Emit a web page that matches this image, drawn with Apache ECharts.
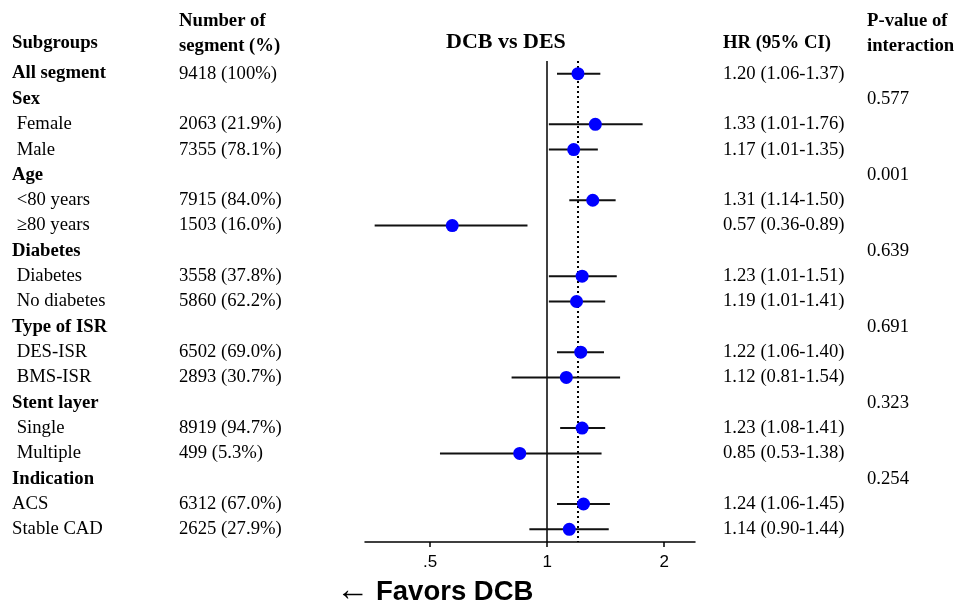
<!DOCTYPE html>
<html>
<head>
<meta charset="utf-8">
<script src="https://cdn.jsdelivr.net/npm/echarts@6/dist/echarts.min.js"></script>
<style>
html,body{margin:0;padding:0;background:#fff;}
#chart{width:959px;height:605px;}
</style>
</head>
<body>
<div id="chart"></div>
<script>
// ---- data ----
var subgroups = ['All segment','Sex',' Female',' Male','Age',' <80 years',' \u226580 years','Diabetes',' Diabetes',' No diabetes','Type of ISR',' DES-ISR',' BMS-ISR','Stent layer',' Single',' Multiple','Indication','ACS','Stable CAD'];
var isHeader = [1,1,0,0,1,0,0,1,0,0,1,0,0,1,0,0,1,0,0];
var nSegments = ['9418 (100%)','','2063 (21.9%)','7355 (78.1%)','','7915 (84.0%)','1503 (16.0%)','','3558 (37.8%)','5860 (62.2%)','','6502 (69.0%)','2893 (30.7%)','','8919 (94.7%)','499 (5.3%)','','6312 (67.0%)','2625 (27.9%)'];
var hrText = ['1.20 (1.06-1.37)','','1.33 (1.01-1.76)','1.17 (1.01-1.35)','','1.31 (1.14-1.50)','0.57 (0.36-0.89)','','1.23 (1.01-1.51)','1.19 (1.01-1.41)','','1.22 (1.06-1.40)','1.12 (0.81-1.54)','','1.23 (1.08-1.41)','0.85 (0.53-1.38)','','1.24 (1.06-1.45)','1.14 (0.90-1.44)'];
var pInteraction = ['','0.577','','','0.001','','','0.639','','','0.691','','','0.323','','','0.254','',''];
var hr = [1.20,null,1.33,1.17,null,1.31,0.57,null,1.23,1.19,null,1.22,1.12,null,1.23,0.85,null,1.24,1.14];
var lo = [1.06,null,1.01,1.01,null,1.14,0.36,null,1.01,1.01,null,1.06,0.81,null,1.08,0.53,null,1.06,0.90];
var hi = [1.37,null,1.76,1.35,null,1.50,0.89,null,1.51,1.41,null,1.40,1.54,null,1.41,1.38,null,1.45,1.44];
var overallHR = 1.20;
var refLine = 1;
var xTicks = [0.5, 1, 2];
var xTickLabels = ['.5', '1', '2'];

// ---- build ----
var pts = [], cis = [];
for (var i = 0; i < hr.length; i++) {
  if (hr[i] != null) {
    pts.push([hr[i], i]);
    cis.push([lo[i], hi[i], i]);
  }
}
var SERIF = '"Liberation Serif","Times New Roman",serif';
var SANS = '"Liberation Sans",Arial,Helvetica,sans-serif';
var FS = 18.7;

function colAxis(data, pos, margin, boldRows) {
  return {
    type: 'category', data: data, inverse: true, position: pos, gridIndex: 0,
    axisLine: {show: false}, axisTick: {show: false}, splitLine: {show: false},
    axisLabel: {
      show: true, interval: 0, margin: margin, align: 'left',
      fontFamily: SERIF, fontSize: FS, color: '#000',
      formatter: function (v, idx) { return boldRows && boldRows[idx] ? '{b|' + v + '}' : v; },
      rich: {b: {fontFamily: SERIF, fontSize: FS, fontWeight: 'bold', color: '#000'}}
    }
  };
}

var chart = echarts.init(document.getElementById('chart'), null, {renderer: 'canvas'});
var option = {
  animation: false,
  backgroundColor: '#fff',
  grid: {left: 365, right: 264, top: 61, bottom: 63, containLabel: false},
  xAxis: {
    type: 'log', logBase: 2, min: 0.34, max: 2.4,
    axisLine: {show: true, lineStyle: {color: '#000', width: 1.5}},
    axisTick: {show: true, customValues: xTicks, length: 5, lineStyle: {color: '#000', width: 1.5}},
    axisLabel: {
      show: true, customValues: xTicks, margin: 12, fontFamily: SANS, fontSize: 17, color: '#000',
      formatter: function (v) { var k = xTicks.indexOf(+v); return k >= 0 ? xTickLabels[k] : ''; }
    },
    splitLine: {show: false}
  },
  yAxis: [
    colAxis(subgroups, 'left', 353, isHeader),
    colAxis(nSegments, 'left', 186, null),
    colAxis(hrText, 'right', 28, null),
    colAxis(pInteraction, 'right', 172, null)
  ],
  graphic: [
    {type: 'text', left: 12, top: 34, style: {text: 'Subgroups', font: 'bold ' + FS + 'px ' + SERIF, fill: '#000'}},
    {type: 'text', left: 179, top: 9, style: {text: 'Number of\nsegment (%)', font: 'bold ' + FS + 'px ' + SERIF, fill: '#000', lineHeight: 25}},
    {type: 'text', left: 723, top: 34, style: {text: 'HR (95% CI)', font: 'bold ' + FS + 'px ' + SERIF, fill: '#000'}},
    {type: 'text', left: 867, top: 9, style: {text: 'P-value of\ninteraction', font: 'bold ' + FS + 'px ' + SERIF, fill: '#000', lineHeight: 25}},
    {type: 'text', left: 446, top: 31, style: {text: 'DCB vs DES', font: 'bold 22px ' + SERIF, fill: '#000'}},
    {type: 'text', left: 336, top: 575, style: {text: '\u2190', font: '33px "Liberation Serif",serif', fill: '#000'}},
    {type: 'text', left: 376, top: 578, style: {text: 'Favors DCB', font: 'bold 27.5px ' + SANS, fill: '#000'}}
  ],
  series: [
    {
      type: 'custom', xAxisIndex: 0, yAxisIndex: 0, data: cis, z: 2, silent: true,
      encode: {x: [0, 1], y: 2},
      renderItem: function (params, api) {
        var s = api.coord([api.value(0), api.value(2)]);
        var e = api.coord([api.value(1), api.value(2)]);
        return {type: 'line', shape: {x1: s[0], y1: s[1], x2: e[0], y2: e[1]}, style: {stroke: '#111', lineWidth: 2}};
      }
    },
    {
      type: 'scatter', xAxisIndex: 0, yAxisIndex: 0, data: pts, z: 5, silent: true,
      symbol: 'circle', symbolSize: 13, itemStyle: {color: '#0000ff', opacity: 1},
      markLine: {
        silent: true, symbol: 'none', label: {show: false}, z: 1,
        data: [
          {xAxis: refLine, lineStyle: {color: '#000', width: 1.5, type: 'solid'}},
          {xAxis: overallHR, lineStyle: {color: '#000', width: 2, type: [2, 3]}}
        ]
      }
    }
  ]
};
chart.setOption(option);
</script>
</body>
</html>
